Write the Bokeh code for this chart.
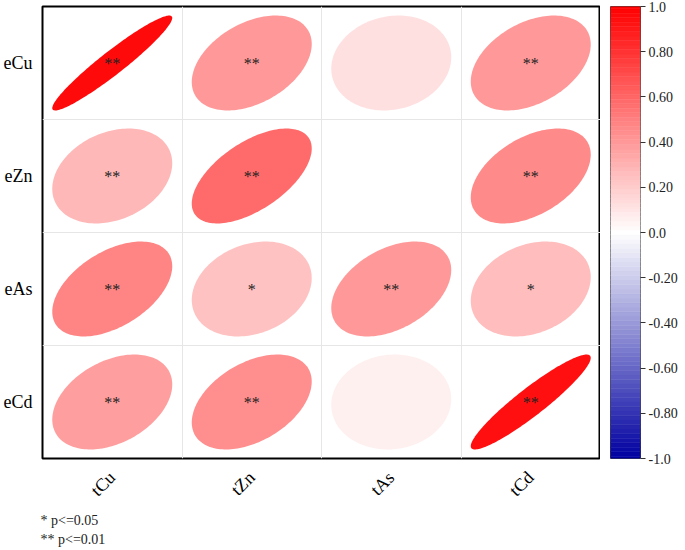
import numpy as np
from bokeh.plotting import figure
from bokeh.layouts import row
from bokeh.models import (LinearColorMapper, FixedTicker, ColumnDataSource, Title, Range1d)
from bokeh.embed import file_html
from bokeh.resources import INLINE

# ---- data ----
rows = ["eCu", "eZn", "eAs", "eCd"]          # top to bottom
cols = ["tCu", "tZn", "tAs", "tCd"]
r_eCu = [0.95, 0.40, 0.12, 0.39]
r_eZn = [0.27, 0.58, 0.00, 0.45]
r_eAs = [0.48, 0.23, 0.40, 0.25]
r_eCd = [0.37, 0.43, 0.06, 0.93]
sig_eCu = ["**", "**", "", "**"]
sig_eZn = ["**", "**", "", "**"]
sig_eAs = ["**", "*", "**", "*"]
sig_eCd = ["**", "**", "", "**"]
cbar_ticks = [1.0, 0.8, 0.6, 0.4, 0.2, 0.0, -0.2, -0.4, -0.6, -0.8, -1.0]
cbar_labels = ["1.0", "0.80", "0.60", "0.40", "0.20", "0.0",
               "-0.20", "-0.40", "-0.60", "-0.80", "-1.0"]
legend_lines = ["* p<=0.05", "** p<=0.01"]

R = [r_eCu, r_eZn, r_eAs, r_eCd]
S = [sig_eCu, sig_eZn, sig_eAs, sig_eCd]

# ---- palette blue-white-red ----
N = 101
levels = np.linspace(-1, 1, N)
pal = []
for v in levels:
    if v >= 0:
        g = int(round(255 * (1 - v)))
        pal.append("#%02x%02x%02x" % (255, g, g))
    else:
        a = 1 + v
        rr = int(round(255 * a))
        bb = int(round(160 + 95 * a))
        pal.append("#%02x%02x%02x" % (rr, rr, bb))
mapper = LinearColorMapper(palette=pal, low=-1 - 1.0 / (N - 1), high=1 + 1.0 / (N - 1))

# ---- ellipses ----
t = np.linspace(0, 2 * np.pi, 160)
xs, ys, rv, cx, cy, sg = [], [], [], [], [], []
nrow = len(rows)
for i, rname in enumerate(rows):
    for j, col in enumerate(cols):
        r = R[i][j]
        d = np.arccos(r)
        x0 = j + 0.5
        y0 = nrow - i - 0.5
        xs.append(list(x0 + 0.43 * np.cos(t + d / 2)))
        ys.append(list(y0 + 0.42 * np.cos(t - d / 2)))
        rv.append(r)
        cx.append(x0)
        cy.append(y0)
        sg.append(S[i][j])

src = ColumnDataSource(dict(xs=xs, ys=ys, r=rv))
tsrc = ColumnDataSource(dict(x=cx, y=cy, s=sg))

H = 548
p = figure(width=600, height=H, x_range=Range1d(0, len(cols)), y_range=Range1d(0, nrow),
           output_backend="svg", toolbar_location=None,
           min_border_left=30, min_border_top=6, min_border_right=0, min_border_bottom=0)

p.patches("xs", "ys", source=src, fill_color={"field": "r", "transform": mapper},
          line_color=None)
p.text("x", "y", text="s", source=tsrc, text_align="center", text_baseline="middle",
       text_font_size="16px", text_color="#222222", text_font={"value": "Liberation Serif"})

p.outline_line_color = "black"
p.outline_line_width = 2
p.background_fill_color = "white"

for g in (p.xgrid, p.ygrid):
    g.grid_line_color = "#e6e6e6"
    g.grid_line_width = 1
p.xgrid.ticker = FixedTicker(ticks=list(range(1, len(cols))))
p.ygrid.ticker = FixedTicker(ticks=list(range(1, nrow)))

p.xaxis.ticker = FixedTicker(ticks=[j + 0.5 for j in range(len(cols))])
p.xaxis.major_label_overrides = {j + 0.5: c for j, c in enumerate(cols)}
p.yaxis.ticker = FixedTicker(ticks=[i + 0.5 for i in range(nrow)])
p.yaxis.major_label_overrides = {nrow - i - 0.5: rn for i, rn in enumerate(rows)}
p.xaxis.major_label_orientation = np.pi / 4
for ax in (p.xaxis, p.yaxis):
    ax.axis_line_color = None
    ax.major_tick_line_color = None
    ax.minor_tick_line_color = None
    ax.major_label_text_font = "Liberation Serif"
    ax.major_label_text_font_size = "18px"
    ax.major_label_text_color = "black"
p.yaxis.major_label_standoff = 4
p.xaxis.major_label_standoff = 10

for k, line in enumerate(legend_lines):
    p.add_layout(Title(text=line, align="left", text_font="Liberation Serif",
                       text_font_size="14px", text_font_style="normal",
                       text_color="#222222", offset=-2, standoff=(0 if k == 0 else 4)),
                 "below")

# ---- colour bar as its own small figure ----
step = levels[1] - levels[0]
cb_src = ColumnDataSource(dict(bottom=list(np.clip(levels - step / 2, -1, 1)),
                               top=list(np.clip(levels + step / 2, -1, 1)),
                               color=pal))
p2 = figure(width=80, height=H, x_range=Range1d(0, 1), y_range=Range1d(-1, 1),
            output_backend="svg", toolbar_location=None,
            x_axis_location=None, y_axis_location="right",
            min_border_left=10, min_border_top=6, min_border_right=0, min_border_bottom=90)
p2.quad(left=0, right=1, bottom="bottom", top="top", fill_color="color",
        line_color="color", line_width=0.5, source=cb_src)
p2.xgrid.visible = False
p2.ygrid.visible = False
p2.outline_line_color = "#444444"
p2.outline_line_width = 1
p2.yaxis.ticker = FixedTicker(ticks=cbar_ticks)
p2.yaxis.major_label_overrides = {k: v for k, v in zip(cbar_ticks, cbar_labels)}
p2.yaxis.axis_line_color = None
p2.yaxis.major_tick_in = 0
p2.yaxis.major_tick_out = 5
p2.yaxis.major_tick_line_color = "#333333"
p2.yaxis.minor_tick_line_color = None
p2.yaxis.major_label_standoff = 3
p2.yaxis.major_label_text_font = "Liberation Serif"
p2.yaxis.major_label_text_font_size = "14px"
p2.yaxis.major_label_text_color = "#222222"

layout = row(p, p2)
open("out.html", "w").write(file_html(layout, INLINE))
